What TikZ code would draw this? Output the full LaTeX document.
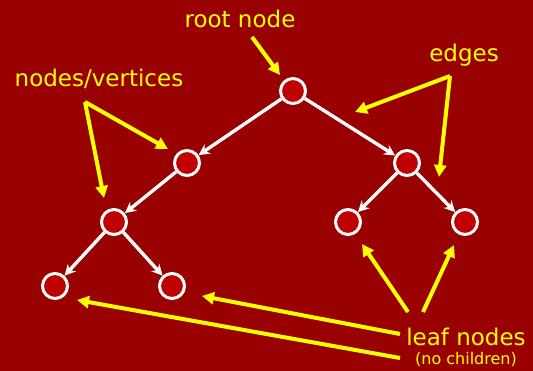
\documentclass[tikz,border=0pt]{standalone}
\usepackage{fontspec}
\setmainfont{DejaVu Sans}
\usetikzlibrary{arrows.meta}
\definecolor{xbg}{HTML}{990000}
\definecolor{xnode}{HTML}{C00000}
\definecolor{xyellow}{HTML}{FFFF00}
\tikzset{
	treenode/.style={circle, draw=white, line width=3pt, fill=xnode, minimum size=25pt, inner sep=0pt},
	treeedge/.style={white, line width=3.4pt, -{Stealth[length=11pt, width=11pt]}},
	pointer/.style={xyellow, line width=4pt, -{Triangle[length=12pt, width=12pt]}},
	tag/.style={text=xyellow, anchor=base, inner sep=0pt, font=\fontsize{23}{27}\selectfont},
}

\begin{document}
\begin{tikzpicture}[x=1pt, y=-1pt]
% Background
		\fill[xbg] (0,0) rectangle (533,371);
		\useasboundingbox (0,0) rectangle (533,371);

% Tree
		\node[treenode] (root) at (293,91) {};
		\node[treenode] (L) at (187,163) {};
		\node[treenode] (R) at (407,163) {};
		\node[treenode] (LL) at (114,222) {};
		\node[treenode] (RL) at (348,222) {};
		\node[treenode] (RR) at (465,222) {};
		\node[treenode] (LLL) at (55,286) {};
		\node[treenode] (LLR) at (172,286) {};

		\draw[treeedge] (root) -- (L);
		\draw[treeedge] (root) -- (R);
		\draw[treeedge] (L) -- (LL);
		\draw[treeedge] (R) -- (RL);
		\draw[treeedge] (R) -- (RR);
		\draw[treeedge] (LL) -- (LLL);
		\draw[treeedge] (LL) -- (LLR);

% Labels
		\node[tag] (rootlbl) at (240,28) {root node};
		\node[tag] (vertlbl) at (99,87) {nodes/vertices};
		\node[tag] (edgelbl) at (464,62) {edges};
		\node[tag] (leaflbl) at (466,346) {leaf nodes};
		\node[tag, font=\fontsize{16}{18}\selectfont] (leafsub) at (466,364) {(no children)};

% Pointers
		\coordinate (rootA) at (252,37);
		\coordinate (rootB) at (280,75);
		\draw[pointer] (rootA) -- (rootB);

		\coordinate (vertA) at (85,102);
		\coordinate (vertB) at (168,149);
		\coordinate (vertC) at (104,198);
		\draw[pointer] (vertA) -- (vertB);
		\draw[pointer] (vertA) -- (vertC);

		\coordinate (edgeA) at (450,76);
		\coordinate (edgeB) at (355,112);
		\coordinate (edgeC) at (439,177);
		\draw[pointer] (edgeA) -- (edgeB);
		\draw[pointer] (edgeA) -- (edgeC);

		\coordinate (leafA) at (408,312);
		\coordinate (leafB) at (362,244);
		\coordinate (leafC) at (423,312);
		\coordinate (leafD) at (454,245);
		\coordinate (leafE) at (400,334);
		\coordinate (leafF) at (202,296);
		\coordinate (leafG) at (400,358);
		\coordinate (leafH) at (77,300);
		\draw[pointer] (leafA) -- (leafB);
		\draw[pointer] (leafC) -- (leafD);
		\draw[pointer] (leafE) -- (leafF);
		\draw[pointer] (leafG) -- (leafH);
\end{tikzpicture}
\end{document}
